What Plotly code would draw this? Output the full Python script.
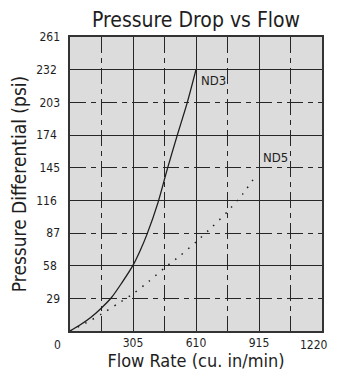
import plotly.graph_objects as go

# ND3 curve (flow cu.in/min, pressure psi)
nd3_flow = [0, 50, 100, 152.5, 200, 250, 304, 341, 373, 426, 470, 518, 568, 610]
nd3_psi = [0, 5.5, 12, 20.5, 29.5, 42.5, 58, 72, 86, 114, 143, 173, 203, 232]

# ND5 curve
nd5_flow = [0, 81, 152.5, 229, 305, 381, 457.5, 534, 610, 686, 762.5, 838, 900]
nd5_psi = [0, 7.5, 15, 24, 33, 44, 56, 67, 79, 92, 106, 122, 138]

x_ticks = [305, 610, 915]
x_end_label = "1220"
y_ticks_solid = [58, 116, 174, 232]
y_ticks_dashed = [29, 87, 145, 203, 261]

FONT = "Liberation Sans Narrow, DejaVu Sans Condensed, Arial Narrow, sans-serif"
INK = "#1e1e1e"
GRID = "#262626"
DASH = "16px,5px,5px,5px"

fig = go.Figure()

fig.add_trace(
    go.Scatter(
        x=nd3_flow, y=nd3_psi, mode="lines", name="ND3",
        line=dict(color=INK, width=1.3, shape="spline", smoothing=0.8),
        showlegend=False,
    )
)
fig.add_trace(
    go.Scatter(
        x=nd5_flow, y=nd5_psi, mode="lines", name="ND5",
        line=dict(color=INK, width=1.5, dash="1.5px,7px", shape="spline", smoothing=0.6),
        showlegend=False,
    )
)
# empty trace so the overlay axis carrying the dashed-line labels is drawn
fig.add_trace(go.Scatter(x=[], y=[], yaxis="y2", showlegend=False, hoverinfo="skip"))

fig.add_annotation(x=nd3_flow[-1], y=nd3_psi[-1], text="ND3", showarrow=False,
                   xanchor="left", yanchor="top", xshift=3, yshift=-1,
                   font=dict(family=FONT, size=13, color=INK))
fig.add_annotation(x=nd5_flow[-1], y=nd5_psi[-1], text="ND5", showarrow=False,
                   xanchor="left", yanchor="bottom", xshift=5, yshift=9,
                   font=dict(family=FONT, size=13, color=INK))
# origin label shared by both axes
fig.add_annotation(x=0, y=0, xref="paper", yref="paper", text="0", showarrow=False,
                   xanchor="center", yanchor="top", xshift=-13, yshift=-5,
                   font=dict(family=FONT, size=12, color=INK))
# last x label sits at the right edge, kept inside the page
fig.add_annotation(x=1, y=0, xref="paper", yref="paper", text=x_end_label,
                   showarrow=False, xanchor="right", yanchor="top", xshift=8, yshift=-5,
                   font=dict(family=FONT, size=12, color=INK))

# page body adds an 8px offset, so the figure is 8px smaller than the window
fig.update_layout(
    width=329, height=368,
    margin=dict(l=62, r=15, t=29, b=45),
    paper_bgcolor="white",
    plot_bgcolor="#dcdcdc",
    font=dict(family=FONT, color=INK),
    title=dict(text="Pressure Drop vs Flow", x=0.5, xref="paper", y=0.968,
               yanchor="middle", font=dict(family=FONT, size=21, color=INK)),
    xaxis=dict(
        range=[0, 1220], tickmode="array", tickvals=x_ticks, automargin=False,
        showgrid=True, gridcolor=GRID, gridwidth=1.4,
        minor=dict(tick0=0, dtick=152.5, showgrid=True, gridcolor=GRID,
                   gridwidth=1.4, griddash=DASH),
        zeroline=False, showline=True, mirror=True, linecolor="#333", linewidth=1.5,
        ticks="", tickfont=dict(family=FONT, size=12, color=INK),
        title=dict(text="Flow Rate (cu. in/min)", standoff=2,
                   font=dict(family=FONT, size=18, color=INK)),
    ),
    yaxis=dict(
        range=[0, 261], tickmode="array", tickvals=y_ticks_solid, automargin=False,
        showgrid=True, gridcolor=GRID, gridwidth=1.4,
        minor=dict(tick0=0, dtick=29, showgrid=True, gridcolor=GRID,
                   gridwidth=1.4, griddash=DASH),
        zeroline=False, showline=True, mirror=True, linecolor="#333", linewidth=1.5,
        ticks="", ticklabelstandoff=9, tickfont=dict(family=FONT, size=12, color=INK),
        title=dict(text="Pressure Differential (psi)", standoff=12,
                   font=dict(family=FONT, size=19, color=INK)),
    ),
    yaxis2=dict(
        range=[0, 261], overlaying="y", side="left", tickmode="array", automargin=False,
        tickvals=y_ticks_dashed, showgrid=False, zeroline=False, showline=False,
        ticks="", ticklabelstandoff=9, tickfont=dict(family=FONT, size=12, color=INK),
    ),
)

fig.write_html("out.html")
